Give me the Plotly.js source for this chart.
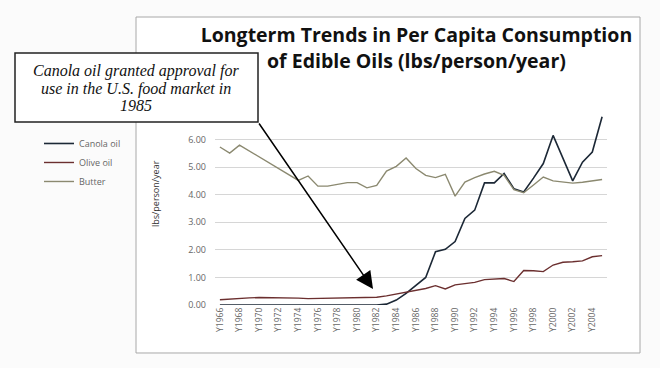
<!DOCTYPE html>
<html>
<head>
<meta charset="utf-8">
<script src="https://cdn.plot.ly/plotly-3.0.1.min.js"></script>
<style>html,body{margin:0;padding:0;background:#fbfbfb;}#chart{width:660px;height:368px;}</style>
</head>
<body>
<div id="chart"></div>
<script>
// ---- data ----
const years = [1966,1967,1968,1969,1970,1971,1972,1973,1974,1975,
               1976,1977,1978,1979,1980,1981,1982,1983,1984,1985,
               1986,1987,1988,1989,1990,1991,1992,1993,1994,1995,
               1996,1997,1998,1999,2000,2001,2002,2003,2004,2005];
const categoryLabels = years.map(y => 'Y' + y);
const canolaOil = [0,0,0,0,0,0,0,0,0,0,
                   0,0,0,0,0,0,0,0.03,0.18,0.42,
                   0.72,1.00,1.93,2.02,2.30,3.14,3.44,4.43,4.43,4.77,
                   4.22,4.10,4.60,5.13,6.15,5.30,4.50,5.18,5.55,6.83];
const oliveOil = [0.19,0.22,0.25,0.26,0.27,0.27,0.27,0.26,0.25,0.23,
                  0.24,0.25,0.26,0.25,0.26,0.27,0.28,0.33,0.40,0.45,
                  0.52,0.60,0.70,0.58,0.73,0.78,0.82,0.92,0.95,0.96,
                  0.85,1.25,1.24,1.21,1.45,1.55,1.57,1.60,1.75,1.79];
const butter = [5.73,5.51,5.80,5.59,5.38,5.16,4.95,4.73,4.52,4.68,
                4.31,4.31,4.38,4.44,4.44,4.25,4.34,4.86,5.03,5.33,
                4.95,4.70,4.62,4.74,3.95,4.46,4.62,4.75,4.85,4.70,
                4.18,4.07,4.35,4.64,4.50,4.45,4.42,4.45,4.50,4.55];
const seriesNames = ['Canola oil', 'Olive oil', 'Butter'];
const yTicks = [0,1,2,3,4,5,6,7];
const titleLines = ['Longterm Trends in Per Capita Consumption', 'of Edible Oils (lbs/person/year)'];
const noteLines = ['Canola oil granted approval for', 'use in the U.S. food market in', '1985'];
const yTitle = 'lbs/person/year';

const tickLabels = categoryLabels.filter((_, i) => i % 2 === 0);

const traces = [
  {x: categoryLabels, y: canolaOil, name: seriesNames[0], type: 'scatter', mode: 'lines',
   line: {color: '#1c2836', width: 1.6}},
  {x: categoryLabels, y: oliveOil, name: seriesNames[1], type: 'scatter', mode: 'lines',
   line: {color: '#6b2f2f', width: 1.4}},
  {x: categoryLabels, y: butter, name: seriesNames[2], type: 'scatter', mode: 'lines',
   line: {color: '#8b8970', width: 1.4}}
];

const noteY = [1.2124, 1.1192, 1.0311];
const annotations = noteLines.map((t, i) => ({
  xref: 'paper', yref: 'paper', x: -0.2015, y: noteY[i], xanchor: 'center', yanchor: 'middle',
  text: '<i>' + t + '</i>', showarrow: false,
  font: {family: 'Liberation Serif, serif', size: 16, color: '#111'}
}));
annotations.push({
  xref: 'paper', yref: 'paper', x: 0.4031, y: 0.0829, text: '', showarrow: true,
  axref: 'pixel', ayref: 'pixel', ax: -115, ay: -167,
  arrowhead: 2, arrowsize: 2.3, arrowwidth: 1.5, arrowcolor: '#000', standoff: 0
});
annotations.push({
  xref: 'paper', yref: 'paper', x: -0.153, y: 0.575, text: yTitle, textangle: -90,
  showarrow: false, xanchor: 'center', yanchor: 'middle',
  font: {family: 'Open Sans, sans-serif', size: 9, color: '#333'}
});

const layout = {
  width: 660, height: 368,
  margin: {l: 215, r: 53, t: 112, b: 63},
  paper_bgcolor: '#fbfbfb',
  plot_bgcolor: 'rgba(0,0,0,0)',
  title: {
    text: '<b>' + titleLines.join('<br>') + '</b>',
    x: 0.631, xanchor: 'center', xref: 'container',
    y: 0.885, yanchor: 'top', yref: 'container',
    font: {family: 'Open Sans, sans-serif', size: 19.5, color: '#111'}
  },
  xaxis: {
    type: 'category', range: [-0.5, 39.5],
    tickmode: 'array', tickvals: tickLabels, ticktext: tickLabels,
    tickangle: -90, showgrid: false, zeroline: false, showline: false, ticks: '',
    tickfont: {family: 'Open Sans, sans-serif', size: 8.5, color: '#666'},
    fixedrange: true
  },
  yaxis: {
    range: [0, 7], tickmode: 'array', tickvals: yTicks, tickformat: '.2f',
    showgrid: true, gridcolor: '#d6d6d6', gridwidth: 1, zeroline: false, showline: false, ticks: '',
    ticklabelstandoff: 8,
    tickfont: {family: 'Open Sans, sans-serif', size: 9, color: '#666'},
    fixedrange: true
  },
  showlegend: true,
  legend: {
    x: -0.449, xanchor: 'left', y: 0.912, yanchor: 'top',
    bgcolor: 'rgba(0,0,0,0)', borderwidth: 0, tracegroupgap: 0,
    font: {family: 'Open Sans, sans-serif', size: 9, color: '#666'}
  },
  shapes: [
    {type: 'rect', xref: 'paper', yref: 'paper', x0: -0.2015, x1: 1.0842, y0: -0.2487, y1: 1.4922,
     fillcolor: '#ffffff', line: {color: '#a8a8a8', width: 1}, layer: 'below'},
    {type: 'rect', xref: 'paper', yref: 'paper', x0: -0.5102, x1: 0.1097, y0: 0.9482, y1: 1.3057,
     fillcolor: '#ffffff', line: {color: '#222', width: 1.5}, layer: 'above'}
  ],
  annotations: annotations
};

Plotly.newPlot('chart', traces, layout, {displayModeBar: false, staticPlot: true});
</script>
</body>
</html>
